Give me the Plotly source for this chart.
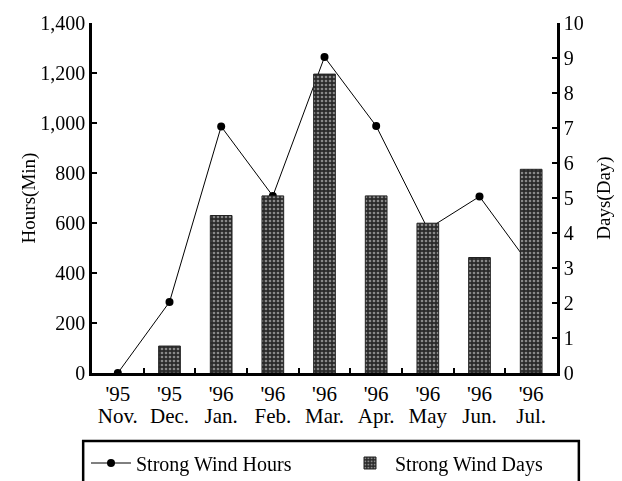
import plotly.graph_objects as go

months = ["Nov.", "Dec.", "Jan.", "Feb.", "Mar.", "Apr.", "May", "Jun.", "Jul."]
years = ["'95", "'95", "'96", "'96", "'96", "'96", "'96", "'96", "'96"]
wind_hours = [0, 284, 986, 708, 1264, 988, 576, 706, 424]
wind_days = [None, 0.77, 4.5, 5.06, 8.54, 5.06, 4.28, 3.3, 5.82]

FONT = "Liberation Serif"

fig = go.Figure()
fig.add_trace(go.Bar(
    x=months, y=wind_days, name="Strong Wind Days", yaxis="y2", width=0.42,
    legend="legend2",
    marker=dict(color="#2a2a2a", line=dict(color="#222", width=1),
                pattern=dict(shape=".", fgcolor="#e8e8e8", size=4, solidity=0.35, fillmode="overlay")),
))
fig.add_trace(go.Scatter(
    x=months, y=wind_hours, name="Strong Wind Hours", mode="lines+markers",
    legend="legend",
    line=dict(color="black", width=1), marker=dict(color="black", size=8),
))
# invisible helper trace carrying the month-name axis
fig.add_trace(go.Scatter(
    x=months, y=wind_hours, xaxis="x2", mode="markers", opacity=0,
    showlegend=False, hoverinfo="skip",
))

leg_common = dict(orientation="h", xanchor="left", yref="container", xref="container",
                  yanchor="middle", y=18/481, font=dict(family=FONT, size=20),
                  bgcolor="rgba(0,0,0,0)", itemwidth=40)

fig.update_layout(
    width=622, height=481,
    margin=dict(l=92, r=65, t=23, b=108, autoexpand=False),
    paper_bgcolor="white", plot_bgcolor="white",
    font=dict(family=FONT, size=20, color="black"),
    showlegend=True,
    legend=dict(leg_common, x=86/622),
    legend2=dict(leg_common, x=345/622),
    xaxis=dict(type="category", categoryarray=months, tickvals=months, ticktext=years,
               showline=True, linecolor="black", linewidth=2.5, ticks="inside",
               tickson="boundaries", ticklen=5, tickwidth=2, tickcolor="black",
               range=[-0.5, 8.5], tickfont=dict(size=21), ticklabelstandoff=0),
    xaxis2=dict(type="category", categoryarray=months, overlaying="x", side="bottom",
                range=[-0.5, 8.5], showline=False, ticks="", showgrid=False,
                tickfont=dict(size=21), ticklabelstandoff=28),
    yaxis=dict(range=[0, 1400], dtick=200, tickformat=",", showline=True, linecolor="black",
               linewidth=2.5, ticks="inside", ticklen=5, tickwidth=2, tickcolor="black",
               showgrid=False, zeroline=False, tickfont=dict(size=20),
               title=dict(text="Hours(Min)", font=dict(size=19), standoff=0)),
    yaxis2=dict(range=[0, 10], dtick=1, overlaying="y", side="right", showline=True,
                linecolor="black", linewidth=2.5, ticks="inside", ticklen=5, tickwidth=2,
                tickcolor="black", showgrid=False, zeroline=False, tickfont=dict(size=20),
                title=dict(text="Days(Day)", font=dict(size=19), standoff=14)),
    shapes=[dict(type="rect", xref="paper", yref="paper", x0=-0.019, x1=1.047,
                 y0=-0.4, y1=-0.194, line=dict(color="black", width=2.5))],
)

fig.write_html("out.html", config={"displayModeBar": False},
               post_script="document.body.style.margin='0';")
